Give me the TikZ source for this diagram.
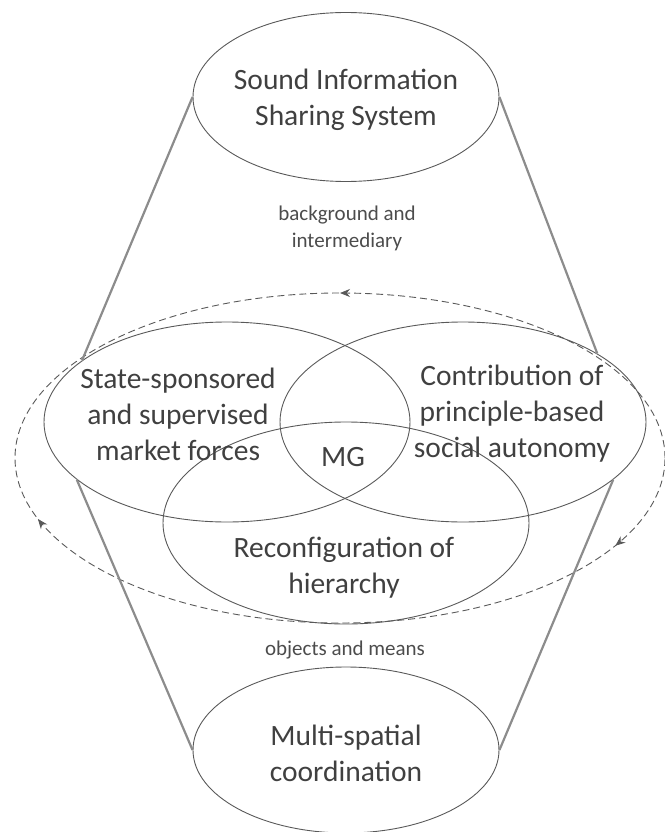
\documentclass[tikz,border=0pt]{standalone}
\usepackage{fontspec}
\setmainfont{Carlito}
\usetikzlibrary{arrows.meta,positioning,shapes.geometric,decorations.markings}

\begin{document}
\begin{tikzpicture}[
    x=1pt, y=1pt,
    oval/.style={ellipse, draw=black!65, line width=0.9pt, inner sep=0pt},
    bigtext/.style={align=center, text=black!75, inner sep=0pt, font=\fontsize{29.5}{36}\selectfont},
    smalltext/.style={align=center, text=black!70, inner sep=0pt, font=\fontsize{21}{27}\selectfont},
    connector/.style={draw=black!45, line width=2.2pt},
    cycleline/.style={draw=black!65, line width=0.9pt, dash pattern=on 7pt off 4pt},
    tip/.style={-{Stealth[length=10pt,width=8pt]}}
]
    \useasboundingbox (0,0) rectangle (664,-832);

    % the four outer ellipses and the middle one
    \node[oval, minimum width=306pt, minimum height=169pt] (info) at (346,-97) {};
    \node[oval, minimum width=306pt, minimum height=166pt] (multi) at (346,-750) {};
    \node[oval, minimum width=366pt, minimum height=200pt] (market) at (227,-422) {};
    \node[oval, minimum width=366pt, minimum height=200pt] (autonomy) at (463,-422) {};
    \node[oval, minimum width=366pt, minimum height=202pt] (hierarchy) at (346,-523) {};

    % dashed cycle round the three
    \draw[cycleline, postaction={decorate, decoration={markings,
        mark=at position 0.25 with {\arrow{Stealth[length=10pt,width=8pt]}},
        mark=at position 0.542 with {\arrowreversed{Stealth[length=10pt,width=8pt]}},
        mark=at position 0.934 with {\arrowreversed{Stealth[length=10pt,width=8pt]}}}}]
        (340,-458) ellipse [x radius=325pt, y radius=165pt];

    \node[bigtext] (infotext) at (346,-100) {Sound Information\\Sharing System};
    \node[bigtext] (markettext) at (178,-414) {State-sponsored\\and supervised\\market forces};
    \node[bigtext] (autonomytext) at (512,-414) {Contribution of\\principle-based\\social autonomy};
    \node[bigtext] (mg) at (343,-457) {MG};
    \node[bigtext] (hierarchytext) at (344,-568) {Reconfiguration of\\hierarchy};
    \node[bigtext] (multitext) at (346,-753) {Multi-spatial\\coordination};
    \node[smalltext] (bg) at (347,-228) {background and\\intermediary};
    \node[smalltext] (means) at (345,-650) {objects and means};

    \draw[connector] (info.west) -- (market.157);
    \draw[connector] (market.201) -- (multi.west);
    \draw[connector] (info.east) -- (autonomy.27);
    \draw[connector] (autonomy.339) -- (multi.east);
\end{tikzpicture}
\end{document}
